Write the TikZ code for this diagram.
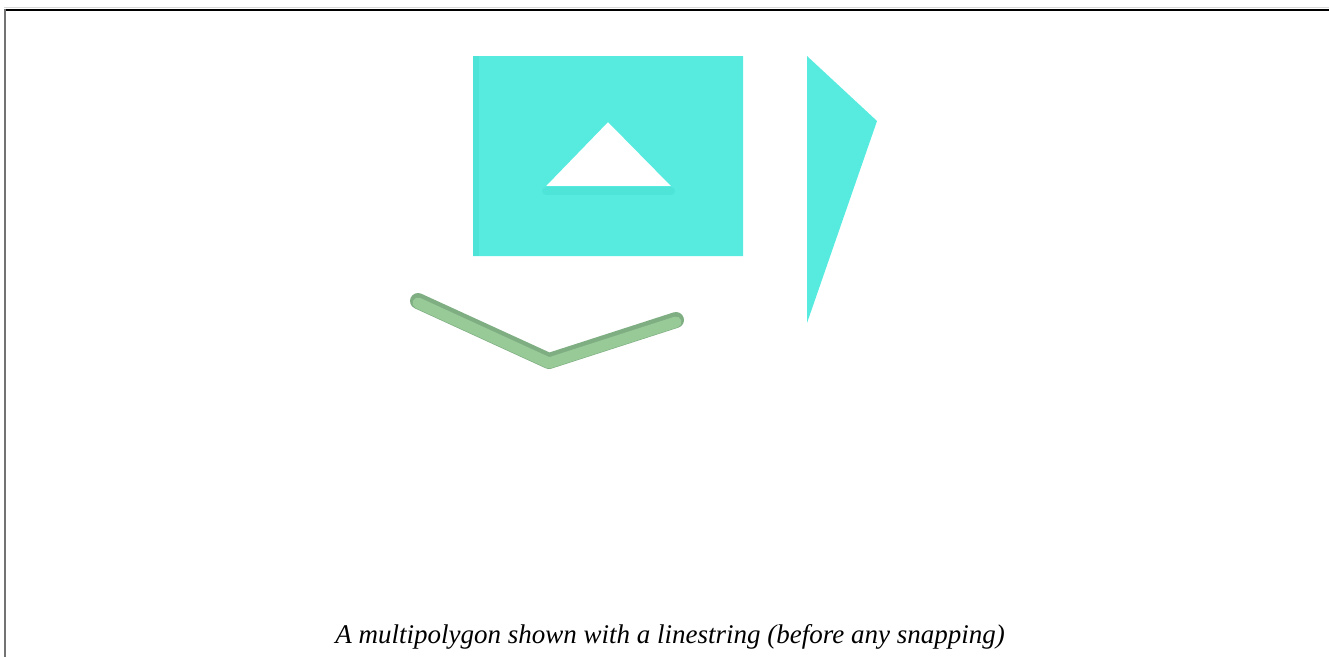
\documentclass[tikz,border=0pt]{standalone}
\usepackage{fontspec}
\setmainfont{Liberation Serif}
\definecolor{poly}{RGB}{87,235,223}
\definecolor{polyshade}{RGB}{62,215,203}
\definecolor{lstring}{RGB}{152,202,152}
\definecolor{lstringdark}{RGB}{126,174,130}
\begin{document}
\begin{tikzpicture}[x=1pt, y=-1pt, line join=round, line cap=round]
	\useasboundingbox (0,0) rectangle (1329,657);
	\path
	(473,56) coordinate (R1) (743,56) coordinate (R2)
	(743,256) coordinate (R3) (473,256) coordinate (R4)
	(546,186) coordinate (H1) (608,122) coordinate (H2) (671,186) coordinate (H3)
	(807,56) coordinate (T1) (877,121) coordinate (T2) (807,323) coordinate (T3)
	(418,301) coordinate (L1) (549,361) coordinate (L2) (676,320) coordinate (L3)
	;
	% frame
	\draw[black!15, line width=1pt, line cap=butt] (4,7.5) -- (1329,7.5);
	\draw[line width=2pt, line cap=butt] (4,9.5) -- (1329,9.5);
	\draw[black!55, line width=2pt, line cap=butt] (5,9) -- (5,657);
	% multipolygon
	\fill[poly, even odd rule] (R1) -- (R2) -- (R3) -- (R4) -- cycle
	(H1) -- (H2) -- (H3) -- cycle;
	\draw[polyshade, opacity=0.4, line width=6pt, line cap=butt] ([xshift=3pt]R1) -- ([xshift=3pt]R4);
	\draw[polyshade, opacity=0.3, line width=8pt] ([yshift=-5pt]H1) -- ([yshift=-5pt]H3);
	\fill[poly] (T1) -- (T2) -- (T3) -- cycle;
	% linestring
	\draw[lstringdark, line width=16pt] (L1) -- (L2) -- (L3);
	\draw[lstring, line width=11pt] ([yshift=-2pt]L1) -- ([yshift=-2pt]L2) -- ([yshift=-2pt]L3);
	\node[font=\fontsize{27}{32}\selectfont\itshape, anchor=base, inner sep=0pt] (caption)
	at (670,643) {A multipolygon shown with a linestring (before any snapping)};
\end{tikzpicture}
\end{document}
